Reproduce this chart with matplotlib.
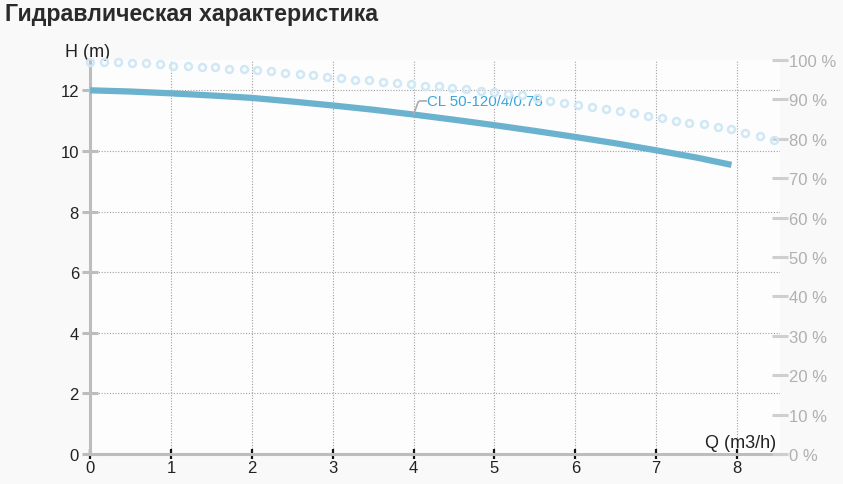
import matplotlib.pyplot as plt

plt.rcParams["font.family"] = ["Liberation Sans", "DejaVu Sans"]

INK, GRID, AXIS = "#222222", "#a0a0a0", "#bdbdbd"
CURVE, EFF, LABEL = "#6ab2cd", "#d0e8f5", "#3aa6dc"

# Head curve H(Q)
Q_HEAD = [0, 0.5, 1, 1.5, 2, 2.5, 3, 3.5, 4, 4.5, 5, 5.5, 6, 6.5, 7, 7.5, 7.93]
HEAD = [12.00, 11.96, 11.90, 11.83, 11.75, 11.63, 11.50, 11.36, 11.20, 11.03,
        10.85, 10.66, 10.46, 10.25, 10.02, 9.78, 9.54]

# Efficiency dots (%)
Q_EFF = [0.00, 0.17, 0.34, 0.52, 0.69, 0.86, 1.03, 1.21, 1.38, 1.55,
         1.72, 1.90, 2.07, 2.24, 2.41, 2.59, 2.76, 2.93, 3.10, 3.28,
         3.45, 3.62, 3.79, 3.97, 4.14, 4.31, 4.48, 4.65, 4.83, 5.00,
         5.17, 5.34, 5.52, 5.69, 5.86, 6.03, 6.21, 6.38, 6.55, 6.72,
         6.90, 7.07, 7.24, 7.41, 7.59, 7.76, 7.93, 8.10, 8.28, 8.45]
EFFIC = [99.5, 99.5, 99.5, 99.2, 99.2, 99.0, 98.6, 98.6, 98.3, 98.1,
         97.8, 97.7, 97.4, 97.1, 96.7, 96.5, 96.1, 95.8, 95.5, 95.0,
         94.8, 94.5, 94.1, 93.8, 93.5, 93.3, 92.9, 92.7, 92.2, 91.8,
         91.4, 91.0, 90.4, 89.7, 89.0, 88.7, 88.1, 87.5, 87.1, 86.6,
         85.8, 85.3, 84.6, 84.0, 83.7, 83.1, 82.4, 81.5, 80.8, 79.6]

X_TICKS = list(range(0, 9))
Y_TICKS = list(range(0, 13, 2))
PCT_TICKS = list(range(0, 101, 10))
PUMP = "CL 50-120/4/0.75"

fig = plt.figure(figsize=(8.43, 4.85), dpi=100, facecolor="#f9f9f9")
ax = fig.add_axes([90 / 843, 30 / 485, 690 / 843, 394 / 485], facecolor="#fdfdfd")
ax.set_xlim(0, 8.53)
ax.set_ylim(0, 13)

ax.grid(True, color=GRID, ls=(0, (1, 1.5)), lw=0.8)
ax.set_xticks(X_TICKS)
ax.set_yticks(Y_TICKS)
ax.tick_params(axis="x", direction="inout", length=7, width=1.6, color="#111111",
               labelsize=12, labelcolor=INK, pad=1)
ax.tick_params(axis="y", direction="inout", length=12, width=2.2, color=AXIS,
               labelsize=12, labelcolor=INK, pad=2)
ax.spines[["top", "right"]].set_visible(False)
for s in ["left", "bottom"]:
    ax.spines[s].set_color(AXIS)
    ax.spines[s].set_linewidth(2.2)

ax.plot(Q_HEAD, HEAD, color=CURVE, lw=4.5, solid_capstyle="butt", zorder=4)

ax2 = ax.twinx()
ax2.set_ylim(0, 100)
ax2.set_yticks(PCT_TICKS)
ax2.set_yticklabels([f"{p} %" for p in PCT_TICKS])
ax2.tick_params(axis="y", direction="inout", length=11, width=2.2, color="#cfcfcf",
                labelsize=12, labelcolor="#b0b0b0", pad=1)
for s in ax2.spines.values():
    s.set_visible(False)
ax2.plot(Q_EFF, EFFIC, "o", ms=5, mfc="none", mec=EFF, mew=1.8, zorder=3, clip_on=False)

ax.annotate(PUMP, xy=(Q_HEAD[8], HEAD[8]), xytext=(4.17, 11.65), textcoords="data",
            fontsize=10.8, color=LABEL, ha="left", va="center", zorder=6,
            bbox=dict(boxstyle="square,pad=0.05", fc="#fdfdfd", ec="none", alpha=0.9),
            arrowprops=dict(arrowstyle="-", color="#aaaaaa", lw=1.2, shrinkA=0, shrinkB=0,
                            connectionstyle="angle,angleA=0,angleB=70,rad=2"))

ax.text(-0.31, 13.0, "H (m)", fontsize=13, color=INK, ha="left", va="bottom")
ax.text(7.6, 0.1, "Q (m3/h)", fontsize=13, color=INK, ha="left", va="bottom")

fig.text(5 / 843, 1 - 15 / 485, "Гидравлическая характеристика", fontsize=16.7,
         fontweight="bold", color="#2a2a2a", ha="left", va="center")

fig.savefig("out.png", dpi=100, facecolor=fig.get_facecolor())
